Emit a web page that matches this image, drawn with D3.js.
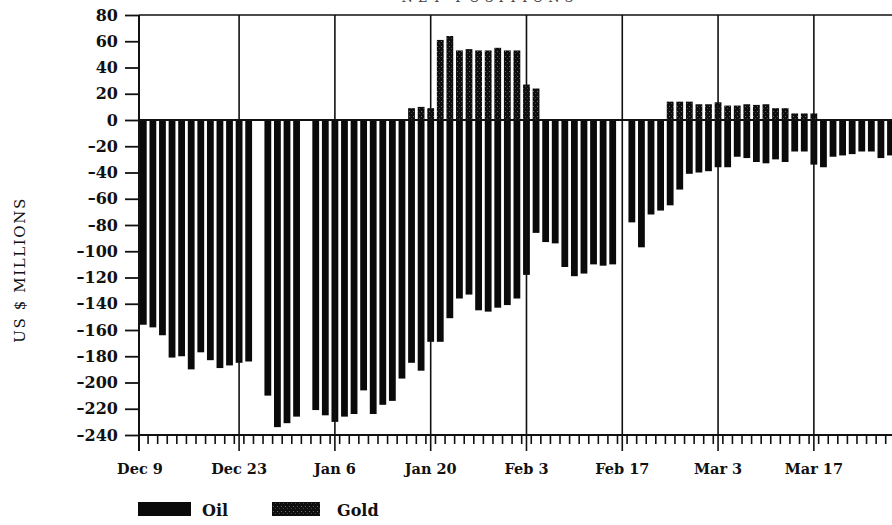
<!DOCTYPE html>
<html>
<head>
<meta charset="utf-8">
<script src="https://cdn.jsdelivr.net/npm/d3@7/dist/d3.min.js"></script>
<style>
  html, body { margin: 0; padding: 0; background: #fff; }
  svg { display: block; }
</style>
</head>
<body>
<script>
// ---- data (one value per trading day; null = market holiday / no bar) ----
const majorLabels = ["Dec 9", "Dec 23", "Jan 6", "Jan 20", "Feb 3", "Feb 17", "Mar 3", "Mar 17"];
const majorIndex = [0, 10, 20, 30, 40, 50, 60, 70];
const oil = [
  -156, -158, -164, -181, -180, -190, -177, -183, -189, -187,
  -185, -184, null, -210, -234, -231, -226, null, -221, -225,
  -230, -226, -224, -206, -224, -217, -214, -197, -185, -191,
  -169, -169, -151, -136, -133, -145, -146, -143, -141, -136,
  -118, -86, -93, -94, -112, -119, -117, -110, -111, -110,
  null, -78, -97, -72, -69, -65, -53, -41, -40, -39,
  -36, -36, -28, -29, -32, -33, -30, -32, -24, -24,
  -34, -36, -28, -27, -26, -24, -24, -29, -27
];
const gold = [
  null, null, null, null, null, null, null, null, null, null,
  null, null, null, null, null, null, null, null, null, null,
  null, null, null, null, null, null, null, null, 9, 10,
  9, 61, 64, 53, 54, 53, 53, 55, 53, 53,
  27, 24, null, null, null, null, null, null, null, null,
  null, null, null, null, null, 14, 14, 14, 12, 12,
  13.5, 11, 11, 12, 11.5, 12, 9, 9, 5, 5,
  5, null, null, null, null, null, null, null, null
];
const yTicks = [80, 60, 40, 20, 0, -20, -40, -60, -80, -100, -120, -140, -160, -180, -200, -220, -240];
const yTitle = "US $ MILLIONS";
const chartTitle = "NET POSITIONS";
const legendItems = ["Oil", "Gold"];

// ---- layout ----
const W = 892, H = 525;
const plotTop = 15, plotBottom = 435, rightEdge = W;
const ink = "#111";

const svg = d3.select("body").append("svg").attr("width", W).attr("height", H);

const defs = svg.append("defs");
const pat = defs.append("pattern").attr("id", "goldTex")
  .attr("patternUnits", "userSpaceOnUse").attr("width", 4).attr("height", 5);
pat.append("rect").attr("width", 4).attr("height", 5).attr("fill", "#0e0e0e");
pat.append("rect").attr("x", 1).attr("y", 1).attr("width", 1).attr("height", 1).attr("fill", "#6a6a6a");
pat.append("rect").attr("x", 3).attr("y", 3).attr("width", 1).attr("height", 1).attr("fill", "#444");

const slots = d3.range(oil.length);
const x = d3.scaleLinear().domain([0, 78]).range([143.3, 890.5]);
const slotW = x(1) - x(0);
const barW = 6.8;
const axisX = x(0) - 4.3;
const y = d3.scaleLinear().domain([-240, 80]).range([plotBottom, plotTop]);

// title (mostly cut off at the top, as in the reference)
svg.append("text").attr("x", 490).attr("y", 1.5)
  .attr("text-anchor", "middle")
  .attr("font-family", "DejaVu Serif").attr("font-size", 13)
  .attr("letter-spacing", 5).attr("fill", "#444")
  .text(chartTitle);

// bars
svg.append("g").selectAll("rect.oil")
  .data(slots.filter(i => oil[i] != null))
  .join("rect").attr("class", "oil")
  .attr("x", i => x(i) - barW / 2)
  .attr("width", barW)
  .attr("y", i => y(Math.max(0, oil[i])))
  .attr("height", i => Math.abs(y(oil[i]) - y(0)))
  .attr("fill", "#0a0a0a");

svg.append("g").selectAll("rect.gold")
  .data(slots.filter(i => gold[i] != null))
  .join("rect").attr("class", "gold")
  .attr("x", i => x(i) - barW / 2)
  .attr("width", barW)
  .attr("y", i => y(gold[i]))
  .attr("height", i => y(0) - y(gold[i]))
  .attr("fill", "url(#goldTex)");

// frame lines
const lines = svg.append("g").attr("stroke", ink).attr("fill", "none");
lines.append("line").attr("x1", axisX).attr("x2", rightEdge).attr("y1", y(80)).attr("y2", y(80)).attr("stroke-width", 1.6);
lines.append("line").attr("x1", axisX).attr("x2", rightEdge).attr("y1", y(0)).attr("y2", y(0)).attr("stroke-width", 2);
lines.append("line").attr("x1", axisX).attr("x2", rightEdge).attr("y1", y(-240)).attr("y2", y(-240)).attr("stroke-width", 1.8);

// vertical grid lines + major ticks
const majorPos = k => (k === 0 ? axisX : x(majorIndex[k]));
lines.selectAll("line.grid").data(d3.range(majorIndex.length)).join("line")
  .attr("class", "grid")
  .attr("x1", k => majorPos(k)).attr("x2", k => majorPos(k))
  .attr("y1", plotTop).attr("y2", plotBottom + 16)
  .attr("stroke-width", k => (k === 0 ? 2 : 1.6));

// minor ticks (one per trading day)
lines.selectAll("line.minor").data(slots).join("line")
  .attr("class", "minor")
  .attr("x1", i => x(i) + slotW / 2).attr("x2", i => x(i) + slotW / 2)
  .attr("y1", plotBottom).attr("y2", plotBottom + 9)
  .attr("stroke-width", 1.6);

// y axis via d3
const yAxis = d3.axisLeft(y).tickValues(yTicks).tickSize(14).tickSizeOuter(0).tickPadding(7)
  .tickFormat(d => (d < 0 ? "\u2013" + Math.abs(d) : String(d)));
const gy = svg.append("g").attr("transform", `translate(${axisX},0)`).call(yAxis);
gy.select(".domain").remove();
gy.selectAll(".tick line").attr("stroke", ink).attr("stroke-width", 1.8);
gy.selectAll(".tick text")
  .attr("font-family", "DejaVu Serif").attr("font-weight", "bold")
  .attr("font-size", 16).attr("fill", ink);

// x labels
svg.append("g").selectAll("text.xl").data(d3.range(majorLabels.length)).join("text")
  .attr("class", "xl")
  .attr("x", k => majorPos(k) + (k === 0 ? 1 : 0))
  .attr("y", 474)
  .attr("text-anchor", "middle")
  .attr("font-family", "DejaVu Serif").attr("font-weight", "bold")
  .attr("font-size", 14.5).attr("fill", ink)
  .text(k => majorLabels[k]);

// y title
svg.append("text")
  .attr("transform", "translate(25,270) rotate(-90)")
  .attr("text-anchor", "middle")
  .attr("font-family", "DejaVu Serif").attr("font-size", 15)
  .attr("letter-spacing", 1.6).attr("fill", ink)
  .text(yTitle);

// legend
const legend = svg.append("g");
const legX = [138, 272];
const legTextX = [202, 337];
legend.selectAll("rect").data(legendItems).join("rect")
  .attr("x", (d, i) => legX[i]).attr("y", 502).attr("width", (d, i) => (i === 0 ? 53 : 48)).attr("height", 14)
  .attr("fill", (d, i) => (i === 0 ? "#0a0a0a" : "url(#goldTex)"));
legend.selectAll("text").data(legendItems).join("text")
  .attr("x", (d, i) => legTextX[i]).attr("y", 516)
  .attr("font-family", "DejaVu Serif").attr("font-weight", "bold")
  .attr("font-size", 16).attr("fill", ink)
  .text(d => d);
</script>
</body>
</html>
